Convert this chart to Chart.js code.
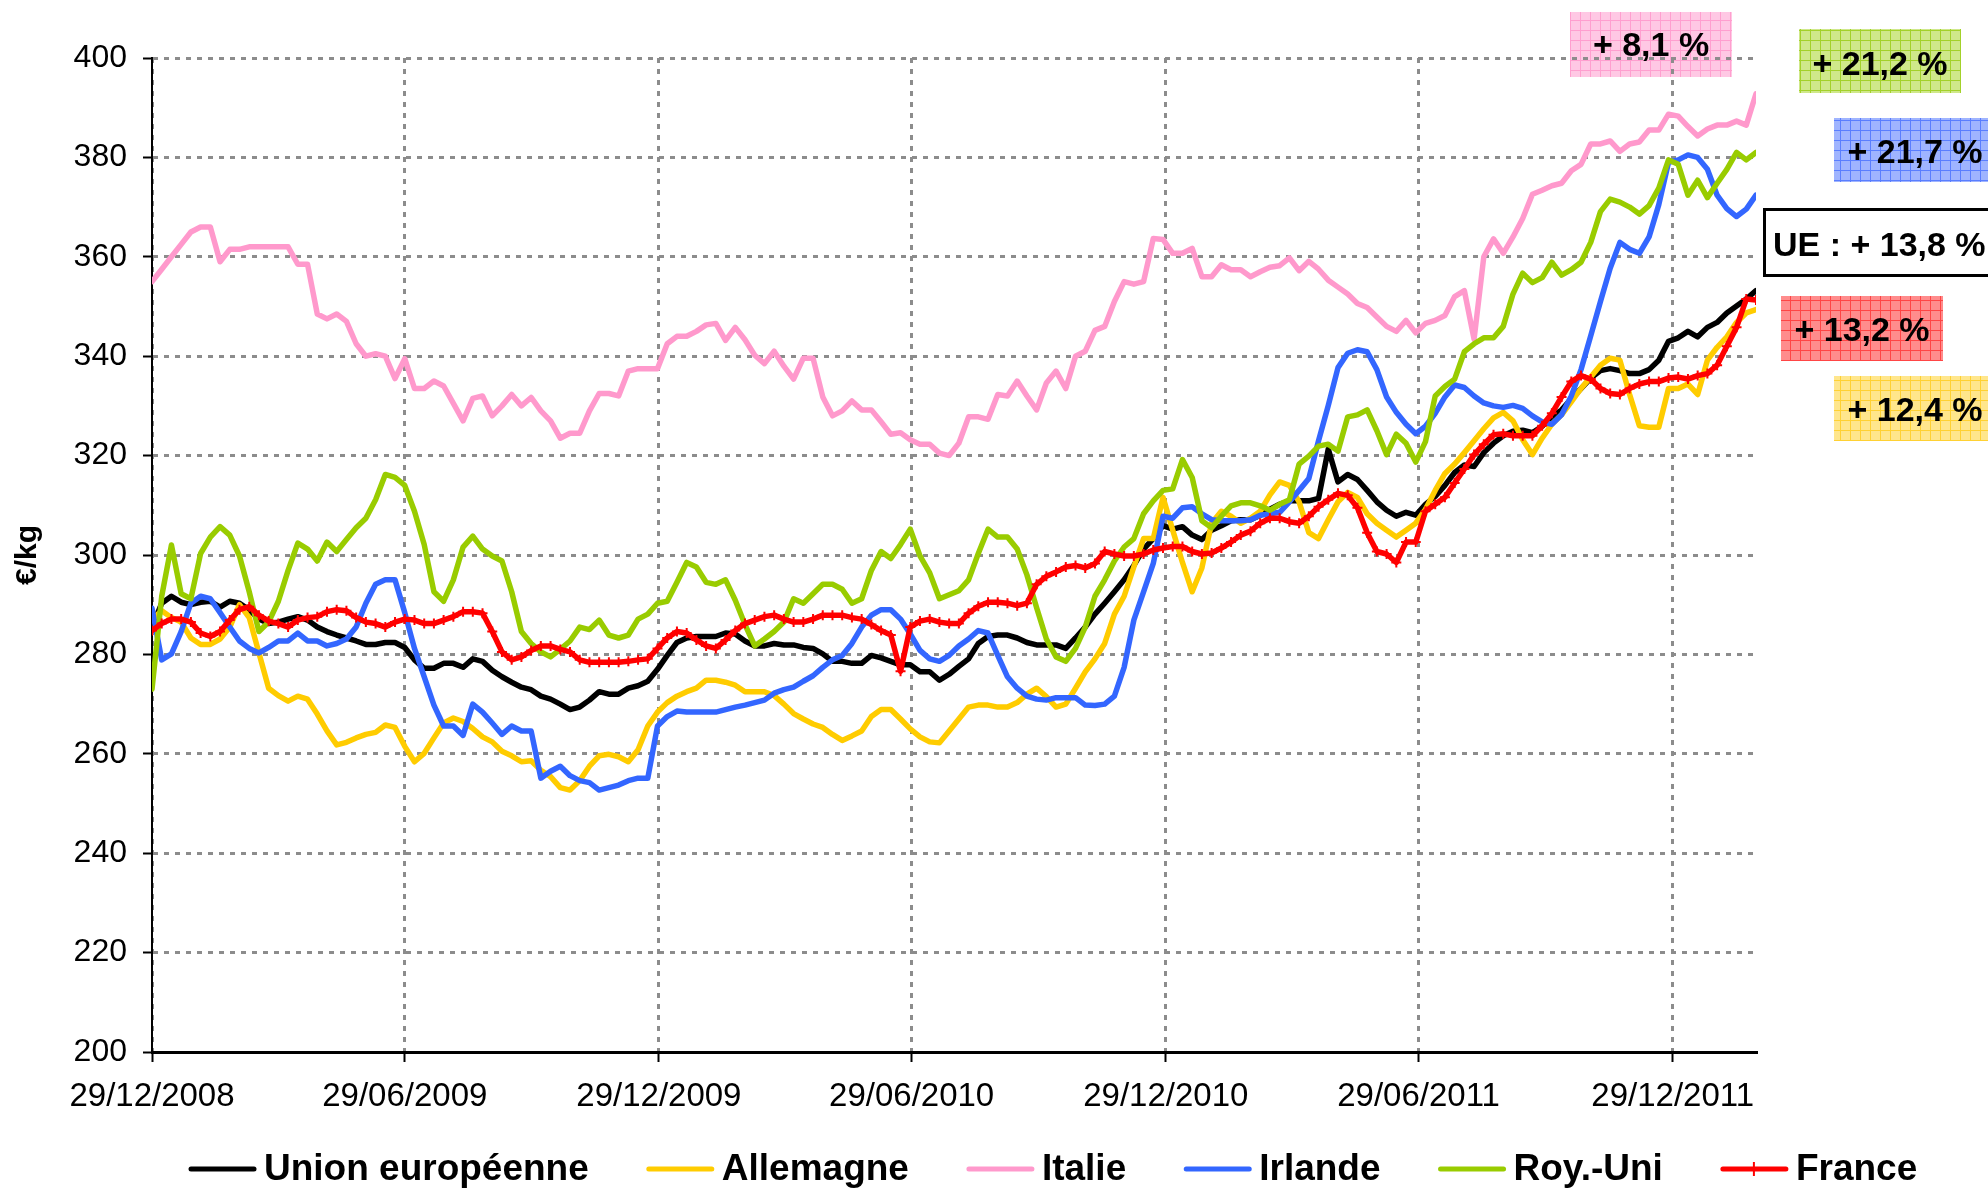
<!DOCTYPE html>
<html>
<head>
<meta charset="utf-8">
<style>
html,body{margin:0;padding:0;background:#ffffff;}
#wrap{width:1988px;height:1190px;position:relative;}
</style>
<script src="https://cdn.jsdelivr.net/npm/chart.js@4.4.1/dist/chart.umd.min.js"></script>
</head>
<body>
<div id="wrap"><canvas id="c" width="1988" height="1190"></canvas></div>
<script>
// ---- data ----
const startDate = '29/12/2008';          // first weekly observation
const lastDate = '27/02/2012';           // last weekly observation
const tickLabels = ['29/12/2008','29/06/2009','29/12/2009','29/06/2010','29/12/2010','29/06/2011','29/12/2011'];
const seriesNames = ['Union européenne','Allemagne','Italie','Irlande','Roy.-Uni','France'];
const seriesColors = ['#000000','#FFCC00','#FF99CC','#3366FF','#99CC00','#FF0000'];

const ueValues = [285.5,290.3,291.7,290.5,290,290.5,290.7,289.5,290.7,290.3,289,287.1,286.2,286.5,287.1,287.6,286.9,285.5,284.6,283.9,283.3,282.7,282,282,282.4,282.4,281.4,278.9,277.2,277.2,278.2,278.2,277.4,279.1,278.6,276.8,275.5,274.4,273.4,272.9,271.6,271,270,
268.9,269.4,270.8,272.5,272,272,273.2,273.7,274.6,277,279.8,282.4,283.3,283.6,283.6,283.6,284.3,284.1,282.7,281.7,281.7,282.2,281.9,281.9,281.4,281.2,280.1,278.6,278.6,278.2,278.2,279.8,279.3,278.6,277.9,277.9,276.5,276.5,274.8,276,277.6,
279.1,282.2,283.6,283.9,283.9,283.3,282.4,281.9,281.9,281.9,281.2,283.3,285.5,288.1,290.3,292.6,295,297.9,301.2,303.3,305.9,305.2,305.7,304,303.1,305,305.9,306.9,307.1,307.1,308,309.2,310.2,310.9,310.9,310.9,311.4,321.3,314.7,316.2,315.2,
313,310.7,309,307.8,308.6,308,310.2,311.8,314,316.6,318.1,317.8,320.6,322.5,324,324.9,325.1,324.6,325.9,327.8,329.2,331.4,333.5,335.6,337.1,337.5,337.1,336.5,336.5,337.3,339.2,343,343.7,345,343.9,345.8,346.8,348.7,350.1,351.5,353.2];

const allemagneValues = [287,288.8,287.4,286.5,283.3,282,282,283.1,285.5,290,287.4,280.3,273.2,271.7,270.6,271.6,271,268,264.6,261.8,262.3,263.2,263.9,264.3,265.8,265.3,261.5,258.4,260.1,263.2,266.2,267.2,266.5,265.1,263.4,262.4,260.5,259.6,258.4,258.6,256.7,255.4,253.2,
252.7,254.6,257.5,259.6,259.9,259.4,258.4,260.8,265.6,268.4,270.3,271.6,272.5,273.2,274.8,274.8,274.4,273.8,272.5,272.5,272.5,271.7,270,268.1,267,266,265.3,263.9,262.7,263.6,264.6,267.5,268.9,268.9,267,265,263.4,262.4,262.2,264.6,267,
269.4,269.8,269.8,269.4,269.4,270.3,272,273.2,271.5,269.4,270,273.2,276.5,279.1,282.2,288.1,291.7,297.6,303.3,303.3,311.6,305,298.5,292.6,297.4,306.4,308.8,307.8,306.4,307.4,308.8,312.1,314.7,314,310.7,304.5,303.3,307.1,310.7,312.6,311.6,
308.3,306.4,305,303.6,305,306.4,309.2,313,316.4,318.3,320.6,323,325.4,327.6,328.7,327,323.2,320.2,323.5,326.3,328.2,330.8,333.5,335.8,338.2,339.6,339.2,332.3,326,325.7,325.7,333.5,333.5,334.4,332.3,339.2,341.8,343.9,346.8,348.7,349.4];

const italieValues = [355,357.5,360,362.5,365,366,366,359,361.5,361.5,362,362,362,362,362,358.5,358.5,348.5,347.5,348.5,347,342.5,340,340.5,340,335.5,339.5,333.5,333.5,335,334,330.5,327,331.5,332,328,330,332.3,330,331.7,329,327,323.5,
324.5,324.5,329,332.5,332.5,332,337,337.5,337.5,337.5,342.5,344,344,345,346.3,346.6,343.2,345.8,343.3,340.2,338.5,341,338,335.4,339.6,339.6,331.8,328,329,331,329.2,329.2,326.8,324.3,324.6,323.2,322.3,322.3,320.5,320,322.5,
327.8,327.8,327.3,332.3,332,335,332,329.2,334.6,337,333.5,340,341,345.2,346,351,355,354.5,355,363.7,363.5,360.7,360.7,361.7,356,356,358.4,357.4,357.4,356,357,357.9,358.2,359.8,357.2,359.1,357.5,355.3,353.9,352.5,350.6,
349.8,347.9,346,345,347.2,344.7,346.6,347.2,348.2,352,353.2,343.4,360,363.6,360.7,364,367.7,372.6,373.4,374.3,374.8,377.3,378.6,382.7,382.7,383.3,381.2,382.7,383.1,385.5,385.5,388.7,388.3,386.2,384.3,385.7,386.5,386.5,387.3,386.5,392.8];

const irlandeValues = [289.3,278.9,280.1,284.6,290.3,291.7,291.2,288.4,285.5,282.7,281.2,280.3,281.4,282.7,282.7,284.3,282.7,282.7,281.7,282.2,283.1,285.5,290.3,294.1,295,295,288.4,281.2,275.5,269.8,265.6,265.6,263.7,270,268.4,266.2,263.9,265.6,264.6,264.6,255.1,256.5,257.5,
255.6,254.6,254.2,252.7,253.2,253.7,254.6,255.1,255.1,265.6,267.5,268.6,268.4,268.4,268.4,268.4,268.9,269.4,269.8,270.3,270.8,272.2,272.9,273.4,274.6,275.7,277.4,278.9,279.8,282.2,285.5,287.9,289,289,287.1,284.1,280.8,279.1,278.6,279.8,281.7,
283.1,284.8,284.3,279.8,275.5,273.2,271.6,271,270.8,271.3,271.3,271.3,269.8,269.7,270,271.6,277.4,286.9,292.6,298.3,307.8,307.4,309.5,309.7,308.3,307.1,306.9,306.9,306.9,307.1,308,308.3,308.6,310.7,313,315.4,323,330.1,337.7,340.6,341.3,
340.9,337.3,331.8,328.7,326.3,324.4,325.9,328.5,331.8,334.2,333.7,332,330.6,330,329.7,330.1,329.5,328,326.8,326.3,328.2,332,337.3,344.1,351,357.7,362.9,361.5,360.7,364,370.5,379,379.5,380.5,380,377.6,372.4,369.7,368.1,369.6,372.4];

const royUniValues = [273,291.7,302,292.2,291.2,300.3,303.6,305.7,304,299.8,292.6,284.6,286.5,290.7,296.9,302.4,301.2,298.8,302.6,300.7,303.1,305.5,307.4,311.1,316.2,315.6,314,308.8,302.1,292.6,290.7,295,301.6,303.8,301.2,299.8,298.8,292.6,284.6,282.2,280.5,279.5,281,
282.7,285.5,285,286.9,283.9,283.3,283.9,287.1,288.1,290.3,290.7,294.5,298.5,297.6,294.5,294.1,295,290.9,286,281.7,283.1,284.6,286.5,291.2,290.3,292.2,294.1,294.1,293.1,290.3,291.2,296.9,300.7,299.3,302.1,305.2,299.8,296.4,291.2,292,292.8,
295,300.3,305.2,303.6,303.6,301.2,296,289.4,283.1,279.5,278.6,281.2,285.5,291.7,295,298.8,301.6,303.3,308.3,310.9,313,313.3,319.2,315.6,306.9,305.5,307.8,309.9,310.5,310.5,309.9,309,310.2,311.1,318.3,319.9,321.9,322.3,320.9,327.8,328.2,
329.2,325,320.2,324.3,322.5,318.7,322.8,332,333.9,335.4,340.9,342.5,343.7,343.7,346,352.5,356.7,354.8,355.8,358.9,356.3,357.4,358.9,362.9,369.1,371.6,371,370,368.6,370.3,373.8,379.5,378.6,372.4,375.4,371.9,374.8,377.6,381,379.5,381];

const franceValues = [284.8,286.2,287.1,287.1,286.5,284.3,283.6,284.6,286.9,289,289.6,287.9,286.7,286.2,285.5,286.9,287.4,287.6,288.6,289,288.8,287.4,286.5,286.2,285.5,286.5,287.1,286.9,286.2,286.2,286.9,287.6,288.6,288.6,288.3,284.6,280.5,278.9,279.5,280.8,281.7,281.7,281,
280.5,278.9,278.4,278.4,278.4,278.4,278.6,278.9,279.1,281.2,283.3,284.6,284.3,282.9,281.7,281.2,282.9,284.8,286.2,286.9,287.6,287.9,287.1,286.5,286.5,287.1,287.9,287.9,287.9,287.4,287.1,286,284.8,283.9,276.6,285.5,286.7,287.1,286.5,286.2,286.2,
288.3,289.7,290.5,290.5,290.3,289.8,290.3,294.1,295.7,296.6,297.6,297.9,297.4,298.3,300.7,300.2,299.8,299.8,300.2,301,301.4,301.7,301.7,300.7,300.2,300.4,301.4,302.6,304,304.8,306.4,307.4,307.4,306.7,306.4,307.8,309.7,311.1,312.4,312,309.5,
304.5,300.7,300.2,298.5,302.6,302.6,308.8,310.2,311.6,314.5,317.3,320.2,322.3,324.2,324.4,324,324,324,326,328.5,331.8,334.9,336.1,335.4,333.5,332.5,332.3,333.5,334.4,334.9,334.9,335.6,335.8,335.4,336.1,336.5,338.2,342,345.8,351.5,351.3];

const allValues = [ueValues, allemagneValues, italieValues, irlandeValues, royUniValues, franceValues];

// annotation labels (variation over the period)
const annotationTexts = ['+ 8,1 %','+ 21,2 %','+ 21,7 %','UE : + 13,8 %','+ 13,2 %','+ 12,4 %'];

// ---- helpers ----
function dayIndex(s){
  const p = s.split('/');
  const t = Date.UTC(+p[2], +p[1]-1, +p[0]);
  const p0 = startDate.split('/');
  const t0 = Date.UTC(+p0[2], +p0[1]-1, +p0[0]);
  return Math.round((t - t0)/86400000);
}
const tickDays = tickLabels.map(dayIndex);
const maxDay = dayIndex(lastDate);
const labelByDay = {};
tickDays.forEach((d,i)=>{ labelByDay[d] = tickLabels[i]; });

const FONT = '"Liberation Sans", Arial, Helvetica, sans-serif';

function makePattern(ctx, bg, line){
  const c = document.createElement('canvas');
  c.width = 10; c.height = 10;
  const g = c.getContext('2d');
  g.fillStyle = bg; g.fillRect(0,0,10,10);
  g.fillStyle = line;
  g.fillRect(0,0,10,1);
  g.fillRect(0,0,1,10);
  return ctx.createPattern(c, 'repeat');
}

const boxSpecs = [
  {x:1570, y:12,  w:162, h:65, bg:'#FFC8E4', line:'#FF9FCF', cx:1651, cy:47,  text:annotationTexts[0]},
  {x:1799, y:29,  w:162, h:64, bg:'#CFE88A', line:'#A3D12A', cx:1880, cy:66,  text:annotationTexts[1]},
  {x:1834, y:118, w:162, h:64, bg:'#9FB4FF', line:'#5A7EFF', cx:1915, cy:154, text:annotationTexts[2]},
  {x:1781, y:296, w:162, h:65, bg:'#FF8C8C', line:'#FF4545', cx:1862, cy:332, text:annotationTexts[4]},
  {x:1834, y:376, w:162, h:65, bg:'#FFE68C', line:'#FFD133', cx:1915, cy:412, text:annotationTexts[5]}
];

const boxesPlugin = {
  id:'boxes',
  beforeDraw(chart){
    const ctx = chart.ctx;
    ctx.save();
    ctx.fillStyle = '#ffffff';
    ctx.fillRect(0,0,chart.width,chart.height);
    ctx.font = 'bold 34px ' + FONT;
    ctx.textAlign = 'center';
    ctx.textBaseline = 'middle';
    boxSpecs.forEach(b=>{
      ctx.fillStyle = makePattern(ctx, b.bg, b.line);
      ctx.fillRect(b.x, b.y, b.w, b.h);
      ctx.fillStyle = '#000000';
      ctx.fillText(b.text, b.cx, b.cy);
    });
    // UE box: white with black border
    ctx.fillStyle = '#ffffff';
    ctx.fillRect(1763, 208, 240, 69);
    ctx.strokeStyle = '#000000';
    ctx.lineWidth = 3;
    ctx.strokeRect(1764.5, 209.5, 240, 66);
    ctx.fillStyle = '#000000';
    ctx.textAlign = 'left';
    ctx.fillText(annotationTexts[3], 1773, 247);
    ctx.restore();
  }
};

const legendPlugin = {
  id:'customLegend',
  afterDraw(chart){
    const ctx = chart.ctx;
    ctx.save();
    ctx.font = 'bold 37px ' + FONT;
    ctx.textBaseline = 'middle';
    ctx.textAlign = 'left';
    let x = 188;
    const y = 1169;
    chart.data.datasets.forEach((ds, i)=>{
      ctx.strokeStyle = ds.borderColor;
      ctx.lineWidth = 5;
      ctx.lineCap = 'round';
      ctx.beginPath(); ctx.moveTo(x+3, y); ctx.lineTo(x+66, y); ctx.stroke();
      if (ds.pointStyle === 'cross') {
        ctx.lineWidth = 2;
        ctx.lineCap = 'butt';
        ctx.beginPath();
        ctx.moveTo(x+34, y-7); ctx.lineTo(x+34, y+7);
        ctx.stroke();
      }
      ctx.fillStyle = '#000000';
      const tx = x + 76;
      ctx.fillText(ds.label, tx, y + 1);
      x = tx + ctx.measureText(ds.label).width + 57;
    });
    ctx.restore();
  }
};

const drawOrder = [5,4,3,2,1,0];
const datasets = allValues.map((vals, k)=>({
  label: seriesNames[k],
  data: vals.map((v,i)=>({x: i*7, y: v})),
  borderColor: seriesColors[k],
  backgroundColor: seriesColors[k],
  borderWidth: 5.5,
  borderJoinStyle: 'round',
  borderCapStyle: 'round',
  tension: 0,
  fill: false,
  pointRadius: k === 5 ? 5 : 0,
  pointStyle: k === 5 ? 'cross' : 'circle',
  pointBorderColor: seriesColors[k],
  pointBorderWidth: 2,
  pointHoverRadius: 0,
  order: drawOrder[k]
}));

const gridCommon = {
  color:'#8c8c8c',
  lineWidth:3,
  drawTicks:true,
  tickColor:'#000000',
  tickWidth:2,
  tickBorderDash:[]
};

new Chart(document.getElementById('c'), {
  type:'line',
  data:{datasets},
  options:{
    responsive:false,
    animation:false,
    devicePixelRatio:1,
    layout:{padding:{top:58,right:232,bottom:0,left:0}},
    plugins:{legend:{display:false}, tooltip:{enabled:false}, title:{display:false}},
    scales:{
      x:{
        type:'linear',
        min:0,
        max:maxDay,
        afterBuildTicks:(s)=>{ s.ticks = tickDays.map(v=>({value:v})); },
        afterFit:(s)=>{ s.height = 138; },
        ticks:{
          callback:(v)=>labelByDay[v] !== undefined ? labelByDay[v] : '',
          font:{family:FONT, size:33},
          color:'#000000',
          padding:15,
          maxRotation:0,
          minRotation:0,
          autoSkip:false
        },
        grid:Object.assign({}, gridCommon, {tickLength:10}),
        border:{display:true, color:'#000000', width:3, dash:[5,6]}
      },
      y:{
        min:200,
        max:400,
        afterFit:(s)=>{ s.width = 152; },
        ticks:{
          stepSize:20,
          font:{family:FONT, size:32},
          color:'#000000',
          padding:16
        },
        title:{
          display:true,
          text:'€/kg',
          font:{family:FONT, size:30, weight:'bold'},
          color:'#000000',
          padding:{top:10, bottom:0}
        },
        grid:Object.assign({}, gridCommon, {tickLength:9}),
        border:{display:true, color:'#000000', width:2, dash:[5,6]}
      }
    }
  },
  plugins:[boxesPlugin, legendPlugin]
});
</script>
</body>
</html>
